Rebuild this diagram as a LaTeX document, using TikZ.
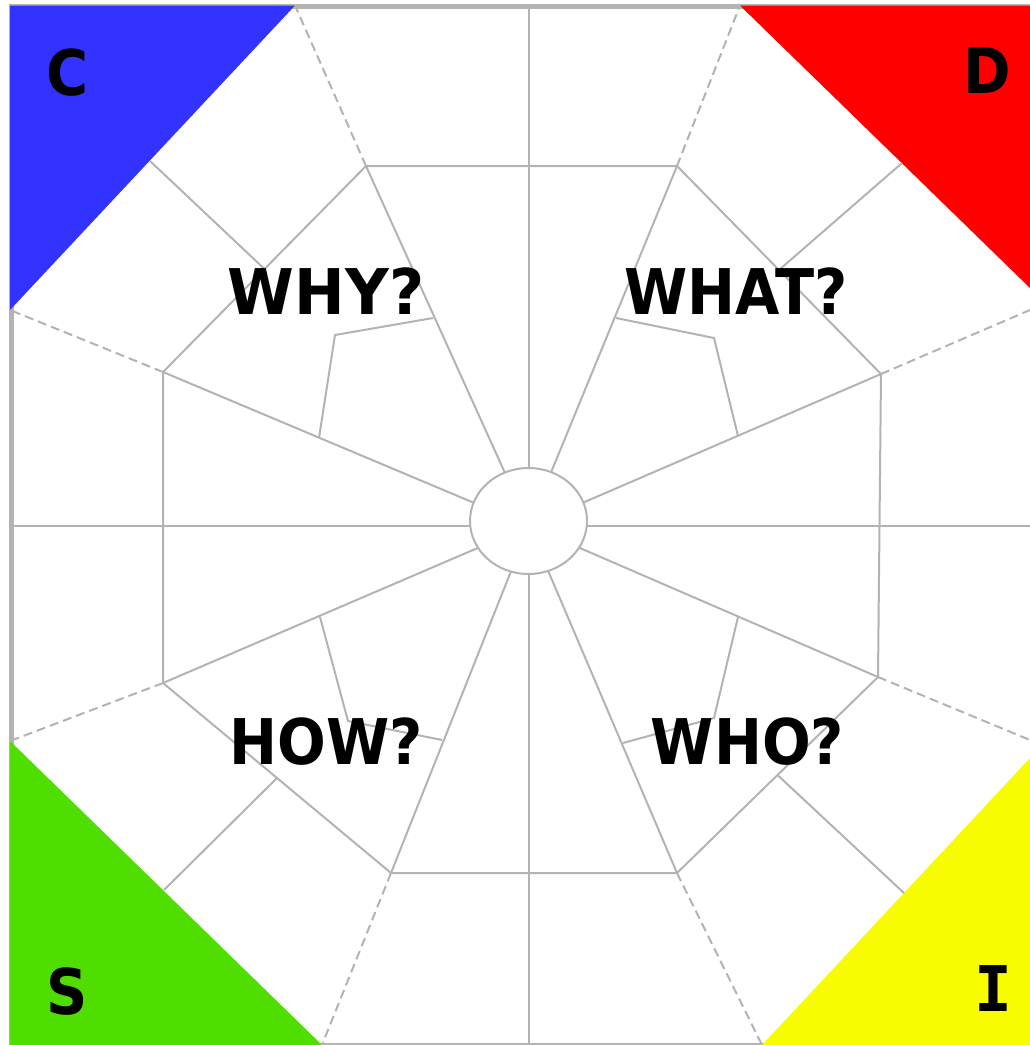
\documentclass[tikz,border=0pt]{standalone}
\usepackage{fontspec}
\setmainfont{DejaVu Sans}
\newfontfamily\monofont{DejaVu Sans Mono}
\usetikzlibrary{shapes.geometric,calc}
\definecolor{linegray}{HTML}{B3B3B3}
\definecolor{cblue}{HTML}{3333FF}
\definecolor{dred}{HTML}{FF0000}
\definecolor{sgreen}{HTML}{50DD00}
\definecolor{iyellow}{HTML}{F8FC00}
\newcommand{\narrowtext}[2][0.91]{\scalebox{#1}[1]{#2}}
\begin{document}
\begin{tikzpicture}[x=1pt,y=-1pt,
  gridline/.style={draw=linegray,line width=2pt},
  guideline/.style={draw=linegray,line width=2pt,dash pattern=on 9pt off 5pt},
  bigword/.style={font=\fontsize{63}{63}\selectfont\bfseries,anchor=base,inner sep=0pt,text=black},
  hubshape/.style={ellipse,draw=linegray,line width=2pt,fill=white,minimum width=117pt,minimum height=106pt,inner sep=0pt}]
\useasboundingbox (0,0) rectangle (1030,1045);
% frame
\draw[linegray,line width=4.5pt] (11.5,6.5) rectangle (1034,1045.5);
% corner triangles
\coordinate (bA) at (295,5.5);
\coordinate (bB) at (10,310);
\coordinate (rA) at (740,5.5);
\coordinate (rB) at (1030,288);
\coordinate (gA) at (10,741);
\coordinate (gB) at (322,1045);
\coordinate (yA) at (1030,758);
\coordinate (yB) at (762,1045);
\fill[cblue] (10,5.5) -- (bA) -- (bB) -- cycle;
\fill[dred] (rA) -- (1030,5.5) -- (rB) -- cycle;
\fill[sgreen] (gA) -- (10,1045) -- (gB) -- cycle;
\fill[iyellow] (yA) -- (1030,1045) -- (yB) -- cycle;
% octagon vertices
\coordinate (c) at (529,526);
\coordinate (A) at (366,166);
\coordinate (B) at (677,166);
\coordinate (Cc) at (881,374);
\coordinate (Dd) at (878,677);
\coordinate (E) at (677,873);
\coordinate (F) at (391,873);
\coordinate (G) at (163,683);
\coordinate (H) at (163,372);
% outer ends
\coordinate (top) at (529,6);
\coordinate (bot) at (529,1045);
\coordinate (lft) at (11,526);
\coordinate (rgt) at (1030,526);
\coordinate (oC) at (1030,310);
\coordinate (oD) at (1030,740);
% spokes
\draw[gridline] (c) -- (top);
\draw[gridline] (c) -- (bot);
\draw[gridline] (c) -- (lft);
\draw[gridline] (c) -- (rgt);
\foreach \v in {A,B,Cc,Dd,E,F,G,H} \draw[gridline] (c) -- (\v);
% octagon
\draw[gridline,line join=round] (A) -- (B) -- (Cc) -- (Dd) -- (E) -- (F) -- (G) -- (H) -- cycle;
% dashed guides
\draw[guideline] (A) -- (bA);
\draw[guideline] (B) -- (rA);
\draw[guideline] (Cc) -- (oC);
\draw[guideline] (Dd) -- (oD);
\draw[guideline] (E) -- (yB);
\draw[guideline] (F) -- (gB);
\draw[guideline] (G) -- (gA);
\draw[guideline] (H) -- (bB);
% lines from octagon edges to corner triangles
\coordinate (tUL) at (150,161);
\coordinate (tUR) at (902,163);
\coordinate (tLR) at (904,893);
\coordinate (tLL) at (164,890);
\draw[gridline] ($(H)!0.5!(A)$) -- (tUL);
\draw[gridline] ($(B)!0.5!(Cc)$) -- (tUR);
\draw[gridline] ($(Dd)!0.5!(E)$) -- (tLR);
\draw[gridline] ($(G)!0.5!(F)$) -- (tLL);
% inner quadrilaterals
\coordinate (wy1) at (433,318);
\coordinate (wy2) at (335,335);
\coordinate (wy3) at (319,438);
\coordinate (wt1) at (616,318);
\coordinate (wt2) at (714,338);
\coordinate (wt3) at (738,436);
\coordinate (hw1) at (320,617);
\coordinate (hw2) at (348,721);
\coordinate (hw3) at (442,740);
\coordinate (wo1) at (738,617);
\coordinate (wo2) at (714,718);
\coordinate (wo3) at (623,743);
\draw[gridline] (wy1) -- (wy2) -- (wy3);
\draw[gridline] (wt1) -- (wt2) -- (wt3);
\draw[gridline] (hw1) -- (hw2) -- (hw3);
\draw[gridline] (wo1) -- (wo2) -- (wo3);
% hub
\node[hubshape] (hub) at (528.5,521) {};
% words
\node[bigword] (why) at (326,314) {\narrowtext[0.96]{WHY?}};
\node[bigword] (what) at (736,314) {\narrowtext{WHAT?}};
\node[bigword] (how) at (326,764) {\narrowtext{HOW?}};
\node[bigword] (who) at (747.5,764) {\narrowtext{WHO?}};
\node[bigword] (lc) at (67.5,95) {\narrowtext{C}};
\node[bigword] (ld) at (987.5,93) {\narrowtext{D}};
\node[bigword] (ls) at (67.5,1014) {\narrowtext{S}};
\node[bigword,font=\fontsize{63}{63}\selectfont\monofont\bfseries] (li) at (993.5,1011) {I};
\end{tikzpicture}
\end{document}
